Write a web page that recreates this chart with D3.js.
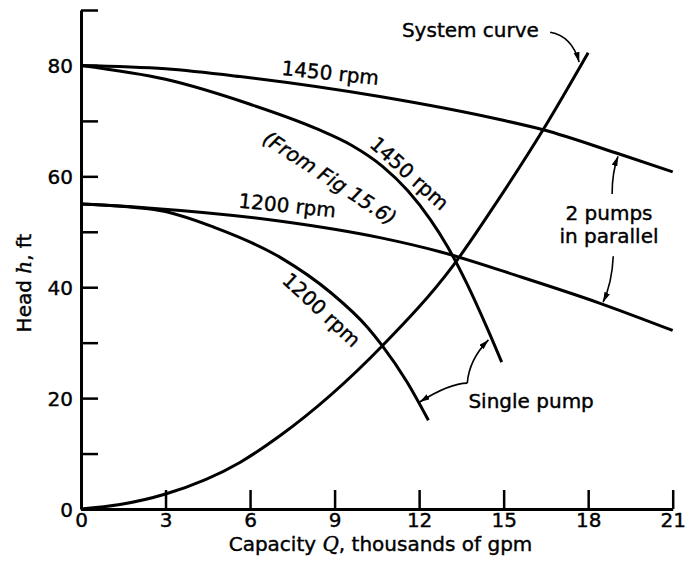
<!DOCTYPE html>
<html>
<head>
<meta charset="utf-8">
<script src="https://cdn.jsdelivr.net/npm/d3@7.9.0/dist/d3.min.js"></script>
<style>
  html, body { margin: 0; padding: 0; background: #fff; }
  svg text { font-family: "DejaVu Sans", sans-serif; fill: #000; }
</style>
</head>
<body>
<svg id="chart" width="694" height="562"></svg>
<script>
// axis ticks
const qTicks = [0, 3, 6, 9, 12, 15, 18, 21];
const hTicks = [0, 10, 20, 30, 40, 50, 60, 70, 80, 90];
const hLabels = [0, 20, 40, 60, 80];

// pump curves (Q in thousands of gpm, h in ft)
const q1450Par = [0, 3, 5.64, 10.6, 14.9, 16.4, 19.0, 21];
const h1450Par = [80, 79.4, 78.0, 74.4, 70.2, 68.4, 64.2, 60.8];

const q1450One = [0, 3, 6.0, 8.4, 9.6, 10.7, 11.6, 12.4, 13.0, 13.7, 14.4, 14.93];
const h1450One = [80, 77.5, 73.0, 68.5, 65.6, 61.8, 57.4, 52.2, 47.4, 40.6, 32.8, 26.5];

const q1200Par = [0, 2.37, 7.1, 10.65, 12.74, 15.58, 18.42, 21];
const h1200Par = [55, 54.3, 51.9, 48.9, 46.4, 41.9, 37.1, 32.2];

const q1200One = [0, 2.84, 4.73, 7.1, 8.87, 10.18, 10.67, 11.56, 12.33];
const h1200One = [55, 53.8, 50.8, 45.3, 39.0, 32.7, 29.6, 23.0, 16.0];

const qSystem = [0, 1.38, 3, 5.64, 7.06, 10.67, 13.22, 14.76, 16.4, 18.0];
const hSystem = [0, 0.8, 2.7, 8.4, 13.2, 29.3, 44.0, 55.4, 68.4, 82.3];

const svg = d3.select("#chart");

const x = d3.scaleLinear().domain([0, 21]).range([81, 672.7]);
const y = d3.scaleLinear().domain([0, 90]).range([509, 10]);

// arrow head
svg.append("defs").append("marker")
  .attr("id", "arrow")
  .attr("viewBox", "0 0 10 6")
  .attr("refX", 10).attr("refY", 3)
  .attr("markerWidth", 10).attr("markerHeight", 6)
  .attr("markerUnits", "userSpaceOnUse")
  .attr("orient", "auto")
  .append("path")
  .attr("d", "M0,0L10,3L0,6Z")
  .attr("fill", "#000");

// axes
const yAxis = svg.append("g")
  .attr("transform", `translate(${x(0)},0)`)
  .call(d3.axisLeft(y)
    .tickValues(hTicks)
    .tickSize(-17)
    .tickSizeOuter(0)
    .tickPadding(8)
    .tickFormat(d => hLabels.includes(d) ? d : ""));

const xAxis = svg.append("g")
  .attr("transform", `translate(0,${y(0)})`)
  .call(d3.axisBottom(x)
    .tickValues(qTicks)
    .tickSize(-19)
    .tickSizeOuter(0)
    .tickPadding(4));

[yAxis, xAxis].forEach(ax => {
  ax.attr("font-family", null).attr("font-size", null);
  ax.select(".domain").attr("stroke", "#000").attr("stroke-width", 3);
  ax.selectAll(".tick line").attr("stroke", "#000").attr("stroke-width", 2.5);
  ax.selectAll(".tick text")
    .style("font-size", "20px")
    .attr("fill", "#000")
    .attr("stroke", "#000").attr("stroke-width", 0.4);
});
yAxis.selectAll(".tick text").attr("dy", "0.36em");

// axis titles
const xt = svg.append("text")
  .attr("x", 380.5).attr("y", 551)
  .attr("text-anchor", "middle")
  .style("font-size", "20px")
  .attr("stroke", "#000").attr("stroke-width", 0.4);
xt.append("tspan").text("Capacity ");
xt.append("tspan").style("font-style", "italic").style("font-family", "DejaVu Serif").text("Q");
xt.append("tspan").text(", thousands of gpm");

const yt = svg.append("text")
  .attr("transform", "translate(31,283) rotate(-90)")
  .attr("text-anchor", "middle")
  .style("font-size", "20px")
  .attr("stroke", "#000").attr("stroke-width", 0.4);
yt.append("tspan").text("Head ");
yt.append("tspan").style("font-style", "italic").style("font-family", "DejaVu Serif").text("h");
yt.append("tspan").text(", ft");

// curves
const line = d3.line()
  .x(d => x(d[0]))
  .y(d => y(d[1]))
  .curve(d3.curveMonotoneX);

const curves = [
  [q1450Par, h1450Par],
  [q1450One, h1450One],
  [q1200Par, h1200Par],
  [q1200One, h1200One],
  [qSystem, hSystem]
];

svg.append("g").selectAll("path")
  .data(curves)
  .join("path")
  .attr("d", ([qs, hs]) => line(qs.map((q, i) => [q, hs[i]])))
  .attr("fill", "none")
  .attr("stroke", "#000")
  .attr("stroke-width", 3)
  .attr("stroke-linecap", "butt");

// labels on the curves
const labels = [
  { t: "1450 rpm", q: 7.10, h: 78.3, r: 6 },
  { t: "(From Fig 15.6)", q: 6.40, h: 66.2, r: 33, italic: true },
  { t: "1450 rpm", q: 10.2, h: 65.5, r: 42 },
  { t: "1200 rpm", q: 5.57, h: 54.4, r: 6 },
  { t: "1200 rpm", q: 7.10, h: 41.0, r: 43 },
  { t: "System curve", q: 11.39, h: 85.1, r: 0 },
  { t: "Single pump", q: 13.75, h: 18.3, r: 0 }
];

svg.append("g").selectAll("text")
  .data(labels)
  .join("text")
  .attr("transform", d => `translate(${x(d.q)},${y(d.h)}) rotate(${d.r})`)
  .style("font-size", "20px")
  .style("font-style", d => d.italic ? "italic" : null)
  .attr("stroke", "#000").attr("stroke-width", 0.4)
  .text(d => d.t);

const par = svg.append("text")
  .attr("text-anchor", "middle")
  .style("font-size", "20px")
  .attr("stroke", "#000").attr("stroke-width", 0.4);
par.append("tspan").attr("x", x(18.74)).attr("y", y(52.1)).text("2 pumps");
par.append("tspan").attr("x", x(18.74)).attr("y", y(47.9)).text("in parallel");

// leader arrows
const arrows = [
  [[16.65, 86.0], [17.43, 85.3], [17.68, 80.6]],
  [[18.85, 56.8], [18.85, 60.8], [19.06, 63.6]],
  [[18.89, 45.6], [18.85, 40.9], [18.53, 37.3]],
  [[13.71, 22.7], [13.77, 26.9], [14.46, 30.5]],
  [[13.71, 22.7], [13.1, 22.7], [12.02, 19.3]]
];

svg.append("g").selectAll("path")
  .data(arrows)
  .join("path")
  .attr("d", ([a, c, b]) => `M${x(a[0])},${y(a[1])}Q${x(c[0])},${y(c[1])} ${x(b[0])},${y(b[1])}`)
  .attr("fill", "none")
  .attr("stroke", "#000")
  .attr("stroke-width", 1.6)
  .attr("marker-end", "url(#arrow)");
</script>
</body>
</html>
